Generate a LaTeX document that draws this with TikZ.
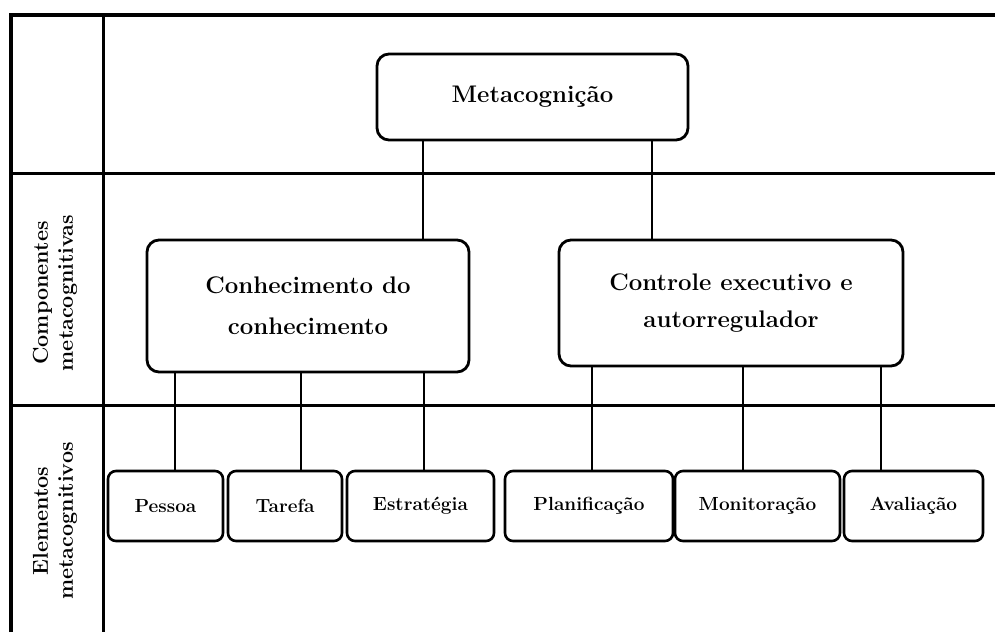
\documentclass[tikz,border=0pt]{standalone}
\begin{document}
\begin{tikzpicture}[x=1pt,y=-1pt,
  framebox/.style={line width=3pt},
  bigbox/.style={draw,line width=2.8pt,rounded corners=12pt,align=center,inner sep=0pt,font=\fontsize{24}{41}\selectfont\bfseries},
  smallbox/.style={draw,line width=2.6pt,rounded corners=8pt,align=center,inner sep=0pt,minimum height=70pt,font=\fontsize{19}{20}\selectfont\bfseries},
  sidelabel/.style={rotate=90,align=center,font=\fontsize{21.5}{25}\selectfont\bfseries},
  link/.style={line width=2.4pt}]
\useasboundingbox (0,0) rectangle (995,632);
% frame
\draw[line width=4pt] (11,632) -- (11,15) -- (995,15);
\draw[framebox] (11,173) -- (995,173);
\draw[framebox] (11,405) -- (995,405);
\draw[framebox] (103,15) -- (103,632);
% side labels
\node[sidelabel] (lcomp) at (55,293) {Componentes\\metacognitivas};
\node[sidelabel] (lelem) at (55,521) {Elementos\\metacognitivos};
% boxes
\node[bigbox,minimum width=311pt,minimum height=86pt] (meta) at (532.5,97) {Metacognição};
\node[bigbox,minimum width=322pt,minimum height=132pt] (con) at (308,306) {Conhecimento do\\conhecimento};
\node[bigbox,minimum width=344pt,minimum height=126pt,font=\fontsize{24}{37}\selectfont\bfseries] (ctl) at (731,303) {Controle executivo e\\autorregulador};
\node[smallbox,minimum width=115pt] (pes) at (165.5,506) {Pessoa};
\node[smallbox,minimum width=114pt] (tar) at (285,506) {Tarefa};
\node[smallbox,minimum width=147pt] (est) at (420.5,506) {Estratégia};
\node[smallbox,minimum width=168pt] (pla) at (589,506) {Planificação};
\node[smallbox,minimum width=165pt] (mon) at (757.5,506) {Monitoração};
\node[smallbox,minimum width=139pt] (ava) at (913.5,506) {Avaliação};
% connector x positions
\coordinate (x1) at (423,0);
\coordinate (x2) at (652,0);
\coordinate (x3) at (175,0);
\coordinate (x4) at (301,0);
\coordinate (x5) at (424,0);
\coordinate (x6) at (592,0);
\coordinate (x7) at (743,0);
\coordinate (x8) at (881,0);
% connectors
\draw[link] (x1 |- meta.south) -- (x1 |- con.north);
\draw[link] (x2 |- meta.south) -- (x2 |- ctl.north);
\draw[link] (x3 |- con.south) -- (x3 |- pes.north);
\draw[link] (x4 |- con.south) -- (x4 |- tar.north);
\draw[link] (x5 |- con.south) -- (x5 |- est.north);
\draw[link] (x6 |- ctl.south) -- (x6 |- pla.north);
\draw[link] (x7 |- ctl.south) -- (x7 |- mon.north);
\draw[link] (x8 |- ctl.south) -- (x8 |- ava.north);
\end{tikzpicture}
\end{document}
